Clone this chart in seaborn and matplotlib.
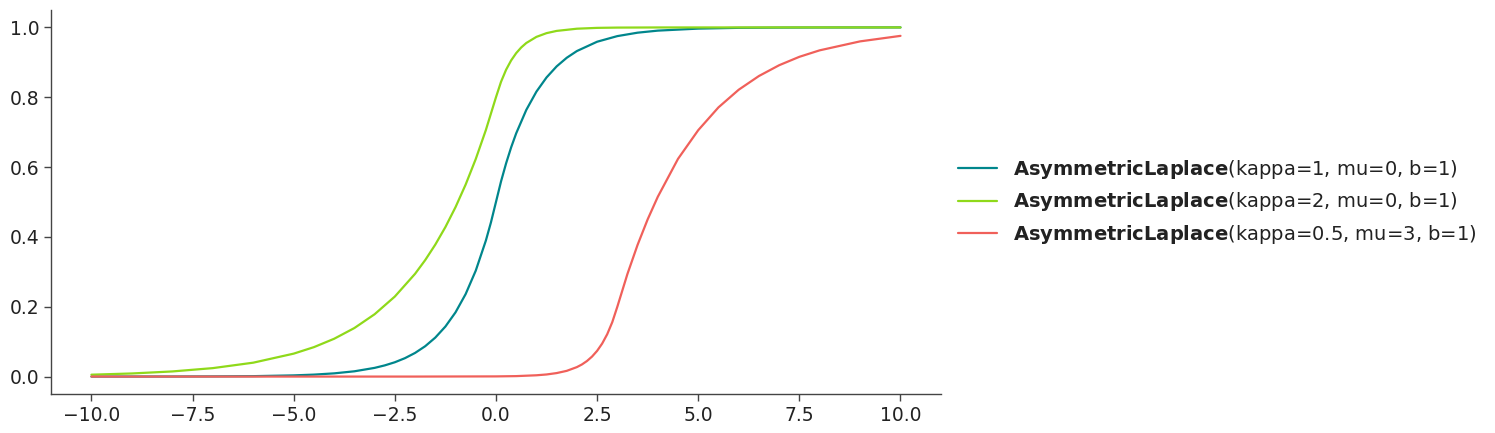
"""
AsymmetricLaplace CDF comparison (three parameter sets)
"""

import numpy as np
import pandas as pd
import matplotlib
matplotlib.use("Agg")
import matplotlib.pyplot as plt
import seaborn as sns

# Values (CDF curves)
x_k1 = [-10, -9, -8, -7, -6, -5, -4.5, -4, -3.5, -3, -2.75, -2.5, -2.25, -2, -1.75, -1.5,
        -1.25, -1, -0.75, -0.5, -0.25, -0.125, 0, 0.125, 0.25, 0.375, 0.5, 0.75, 1, 1.25,
        1.5, 1.75, 2, 2.5, 3, 3.5, 4, 5, 6, 7, 8, 10]
y_k1 = [0.0000, 0.0001, 0.0002, 0.0005, 0.0012, 0.0034, 0.0056, 0.0092, 0.0151, 0.0249,
        0.0320, 0.0410, 0.0527, 0.0677, 0.0869, 0.1116, 0.1433, 0.1839, 0.2362, 0.3033,
        0.3894, 0.4412, 0.5000, 0.5588, 0.6106, 0.6564, 0.6967, 0.7638, 0.8161, 0.8567,
        0.8884, 0.9131, 0.9323, 0.9590, 0.9751, 0.9849, 0.9908, 0.9966, 0.9988, 0.9995,
        0.9998, 1.0000]

x_k2 = [-10, -9, -8, -7, -6, -5, -4.5, -4, -3.5, -3, -2.5, -2, -1.75, -1.5, -1.25, -1,
        -0.75, -0.5, -0.25, 0, 0.125, 0.25, 0.375, 0.5, 0.625, 0.75, 1, 1.25, 1.5, 2,
        2.5, 3, 4, 6, 10]
y_k2 = [0.0054, 0.0089, 0.0147, 0.0242, 0.0398, 0.0657, 0.0843, 0.1083, 0.1390, 0.1785,
        0.2292, 0.2943, 0.3335, 0.3779, 0.4282, 0.4852, 0.5498, 0.6230, 0.7060, 0.8000,
        0.8442, 0.8787, 0.9055, 0.9264, 0.9427, 0.9554, 0.9729, 0.9836, 0.9900, 0.9963,
        0.9987, 0.9995, 0.9999, 1.0000, 1.0000]

x_k05 = [-10, -5, -2, 0, 0.5, 1, 1.25, 1.5, 1.75, 2, 2.125, 2.25, 2.375, 2.5, 2.625,
         2.75, 2.875, 3, 3.25, 3.5, 3.75, 4, 4.5, 5, 5.5, 6, 6.5, 7, 7.5, 8, 9, 10]
y_k05 = [0.0000, 0.0000, 0.0000, 0.0005, 0.0013, 0.0037, 0.0060, 0.0100, 0.0164, 0.0271,
         0.0347, 0.0446, 0.0573, 0.0736, 0.0945, 0.1213, 0.1558, 0.2000, 0.2939, 0.3770,
         0.4503, 0.5148, 0.6235, 0.7057, 0.7710, 0.8215, 0.8608, 0.8917, 0.9158, 0.9343,
         0.9600, 0.9758]

labels = [
    r"$\bf{AsymmetricLaplace}$(kappa=1, mu=0, b=1)",
    r"$\bf{AsymmetricLaplace}$(kappa=2, mu=0, b=1)",
    r"$\bf{AsymmetricLaplace}$(kappa=0.5, mu=3, b=1)",
]
colors = ["#00868c", "#8fd91a", "#f0605a"]


def build_frame():
    """Uzun formatta DataFrame oluştur"""
    parts = []
    for xs, ys, lab in zip([x_k1, x_k2, x_k05], [y_k1, y_k2, y_k05], labels):
        parts.append(pd.DataFrame({"x": xs, "cdf": ys, "dist": lab}))
    return pd.concat(parts, ignore_index=True)


def main():
    sns.set_theme(style="ticks")
    plt.rcParams["font.family"] = ["DejaVu Sans"]
    plt.rcParams["mathtext.fontset"] = "dejavusans"

    df = build_frame()

    fig = plt.figure(figsize=(14.95, 4.33), dpi=100)
    ax = fig.add_axes([0.0341, 0.090, 0.5953, 0.887])

    sns.lineplot(data=df, x="x", y="cdf", hue="dist", palette=colors,
                 hue_order=labels, linewidth=1.6, ax=ax, estimator=None, sort=True)

    ax.set_xlim(-11, 11)
    ax.set_ylim(-0.05, 1.05)
    ax.set_xticks([-10, -7.5, -5, -2.5, 0, 2.5, 5, 7.5, 10])
    ax.set_xticklabels([f"{t:.1f}".replace("-", "\u2212") for t in ax.get_xticks()])
    ax.set_yticks([0, 0.2, 0.4, 0.6, 0.8, 1.0])
    ax.set_yticklabels([f"{t:.1f}" for t in ax.get_yticks()])
    ax.set_xlabel("")
    ax.set_ylabel("")

    for s in ["top", "right"]:
        ax.spines[s].set_visible(False)
    for s in ["left", "bottom"]:
        ax.spines[s].set_color("#444444")
        ax.spines[s].set_linewidth(1.0)
    ax.tick_params(axis="both", labelsize=13.5, colors="#222222", length=5,
                   width=1.0, direction="out")
    ax.tick_params(axis="both", color="#444444")

    leg = ax.legend(loc="center left", bbox_to_anchor=(1.0, 0.5), frameon=False,
                    fontsize=14, handlelength=2.0, borderaxespad=0.5,
                    labelspacing=0.5)
    for t in leg.get_texts():
        t.set_color("#222222")

    fig.savefig("out.png", dpi=100)
    plt.close(fig)


if __name__ == "__main__":
    main()
